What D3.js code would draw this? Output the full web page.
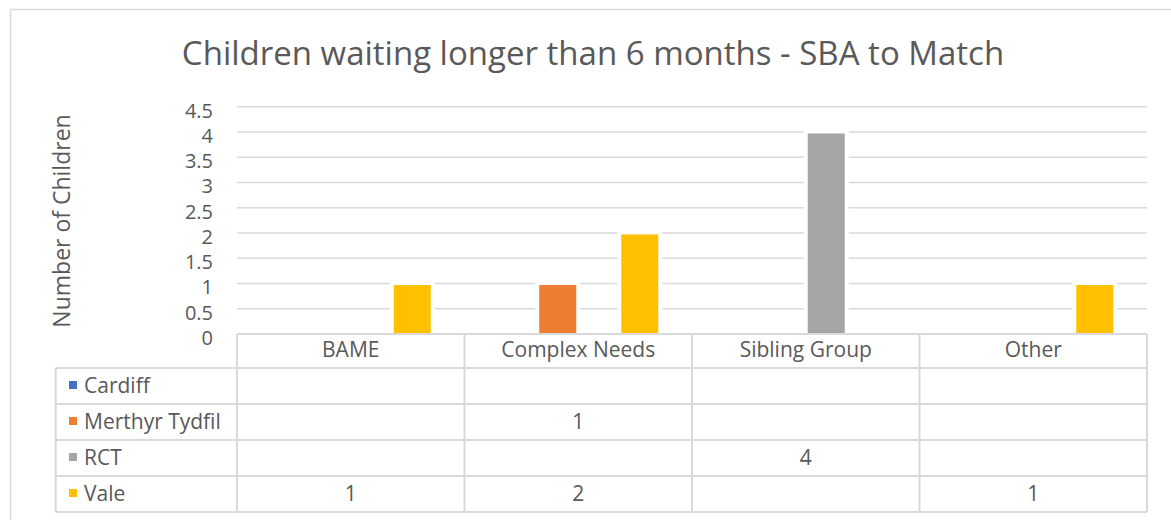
<!DOCTYPE html>
<html>
<head>
<meta charset="utf-8">
<script src="https://cdn.jsdelivr.net/npm/d3@7"></script>
<style>
  body { margin: 0; background: #fff; }
  text { font-family: "Open Sans", sans-serif; fill: #595959; }
</style>
</head>
<body>
<div id="myVis"></div>
<script>
// Children waiting longer than 6 months - SBA to Match

var width = 1171;
var height = 520;

var categories = ["BAME", "Complex Needs", "Sibling Group", "Other"];
var seriesNames = ["Cardiff", "Merthyr Tydfil", "RCT", "Vale"];
var seriesColors = ["#4472c4", "#ed7d31", "#a5a5a5", "#ffc000"];
// one array per series, one value per category (null = blank)
var cardiff = [null, null, null, null];
var merthyr = [null, 1, null, null];
var rct = [null, null, 4, null];
var vale = [1, 2, null, 1];
var yTicks = [0, 0.5, 1, 1.5, 2, 2.5, 3, 3.5, 4, 4.5];

var seriesValues = [cardiff, merthyr, rct, vale];

var plotLeft = 237;
var plotRight = 1147;
var plotTop = 106.7;
var plotBottom = 334;
var tableLeft = 55.7;
var headerBottom = 368;
var rowH = 36;
var gridColor = "#d9d9d9";

var svg = d3
  .select("#myVis")
  .append("svg")
  .attr("width", width)
  .attr("height", height);

// chart border
svg
  .append("rect")
  .attr("x", 10.5)
  .attr("y", 9.5)
  .attr("width", 1200)
  .attr("height", 600)
  .attr("fill", "white")
  .attr("stroke", gridColor)
  .attr("stroke-width", 1.5);

svg
  .append("text")
  .attr("x", 593)
  .attr("y", 65)
  .attr("text-anchor", "middle")
  .style("font-size", "33px")
  .text("Children waiting longer than 6 months - SBA to Match");

var y = d3.scaleLinear().domain([0, 4.5]).range([plotBottom, plotTop]);

var x0 = d3.scaleBand().domain(categories).range([plotLeft, plotRight]).padding(0);

var x1 = d3
  .scaleBand()
  .domain(seriesNames)
  .range([0, x0.bandwidth()])
  .paddingInner(0)
  .paddingOuter(0.774);

// gridlines
svg
  .append("g")
  .selectAll("line")
  .data(yTicks.slice(1))
  .join("line")
  .attr("x1", plotLeft)
  .attr("x2", plotRight)
  .attr("y1", (d) => y(d))
  .attr("y2", (d) => y(d))
  .attr("stroke", gridColor)
  .attr("stroke-width", 1.5);

// y axis labels (sit a little below their gridline, like the original)
var yAxis = d3.axisLeft(y).tickValues(yTicks).tickSize(0).tickPadding(0).tickFormat(d3.format("~g"));
var yg = svg
  .append("g")
  .attr("transform", "translate(213,4)")
  .call(yAxis);
yg.select(".domain").remove();
yg.selectAll("text")
  .style("font-size", "20px")
  .style("font-family", "'Open Sans', sans-serif")
  .attr("fill", "#595959");

svg
  .append("text")
  .attr("transform", "translate(70,221) rotate(-90)")
  .attr("text-anchor", "middle")
  .style("font-size", "23px")
  .text("Number of Children");

// bars
var barData = [];
seriesNames.forEach(function (s, i) {
  categories.forEach(function (c, j) {
    if (seriesValues[i][j] != null) {
      barData.push({ cat: c, series: s, value: seriesValues[i][j], color: seriesColors[i] });
    }
  });
});

var bars = svg.append("g");
bars
  .selectAll("rect.gap")
  .data(barData)
  .join("rect")
  .attr("class", "gap")
  .attr("x", (d) => x0(d.cat) + x1(d.series) - 2)
  .attr("y", (d) => y(d.value) - 2)
  .attr("width", x1.bandwidth() + 4)
  .attr("height", (d) => plotBottom - y(d.value) + 2)
  .attr("fill", "white");

bars
  .selectAll("rect.bar")
  .data(barData)
  .join("rect")
  .attr("class", "bar")
  .attr("x", (d) => x0(d.cat) + x1(d.series) + 2)
  .attr("y", (d) => y(d.value) + 1.5)
  .attr("width", x1.bandwidth() - 4)
  .attr("height", (d) => plotBottom - y(d.value) - 1.5)
  .attr("fill", (d) => d.color);

// data table
var table = svg.append("g");
var tableBottom = headerBottom + rowH * seriesNames.length;

table
  .append("line")
  .attr("x1", plotLeft)
  .attr("x2", plotRight)
  .attr("y1", plotBottom)
  .attr("y2", plotBottom)
  .attr("stroke", gridColor)
  .attr("stroke-width", 2);

table
  .selectAll("line.row")
  .data(d3.range(seriesNames.length + 1))
  .join("line")
  .attr("class", "row")
  .attr("x1", tableLeft)
  .attr("x2", plotRight)
  .attr("y1", (d) => headerBottom + d * rowH)
  .attr("y2", (d) => headerBottom + d * rowH)
  .attr("stroke", gridColor)
  .attr("stroke-width", 2);

var colEdges = categories.map((c) => x0(c)).concat([plotRight]);
table
  .selectAll("line.col")
  .data(colEdges)
  .join("line")
  .attr("class", "col")
  .attr("x1", (d) => d)
  .attr("x2", (d) => d)
  .attr("y1", plotBottom)
  .attr("y2", tableBottom)
  .attr("stroke", gridColor)
  .attr("stroke-width", 2);

table
  .append("line")
  .attr("x1", tableLeft)
  .attr("x2", tableLeft)
  .attr("y1", headerBottom)
  .attr("y2", tableBottom)
  .attr("stroke", gridColor)
  .attr("stroke-width", 2);

// header labels
table
  .selectAll("text.cat")
  .data(categories)
  .join("text")
  .attr("class", "cat")
  .attr("x", (d) => x0(d) + x0.bandwidth() / 2)
  .attr("y", (plotBottom + headerBottom) / 2 - 1)
  .attr("dy", "0.35em")
  .attr("text-anchor", "middle")
  .style("font-size", "21px")
  .text((d) => d);

// row legend keys and labels
var rows = table
  .selectAll("g.tr")
  .data(seriesNames)
  .join("g")
  .attr("class", "tr")
  .attr("transform", (d, i) => "translate(0," + (headerBottom + i * rowH + rowH / 2) + ")");

rows
  .append("rect")
  .attr("x", 69)
  .attr("y", -5)
  .attr("width", 8)
  .attr("height", 8)
  .attr("fill", (d, i) => seriesColors[i]);

rows
  .append("text")
  .attr("x", 84)
  .attr("dy", "0.35em")
  .style("font-size", "21px")
  .text((d) => d);

rows
  .selectAll("text.val")
  .data((d, i) => seriesValues[i].map((v, j) => ({ v: v, cat: categories[j] })))
  .join("text")
  .attr("class", "val")
  .attr("x", (d) => x0(d.cat) + x0.bandwidth() / 2)
  .attr("dy", "0.35em")
  .attr("text-anchor", "middle")
  .style("font-size", "21px")
  .text((d) => (d.v == null ? "" : d.v));
</script>
</body>
</html>
